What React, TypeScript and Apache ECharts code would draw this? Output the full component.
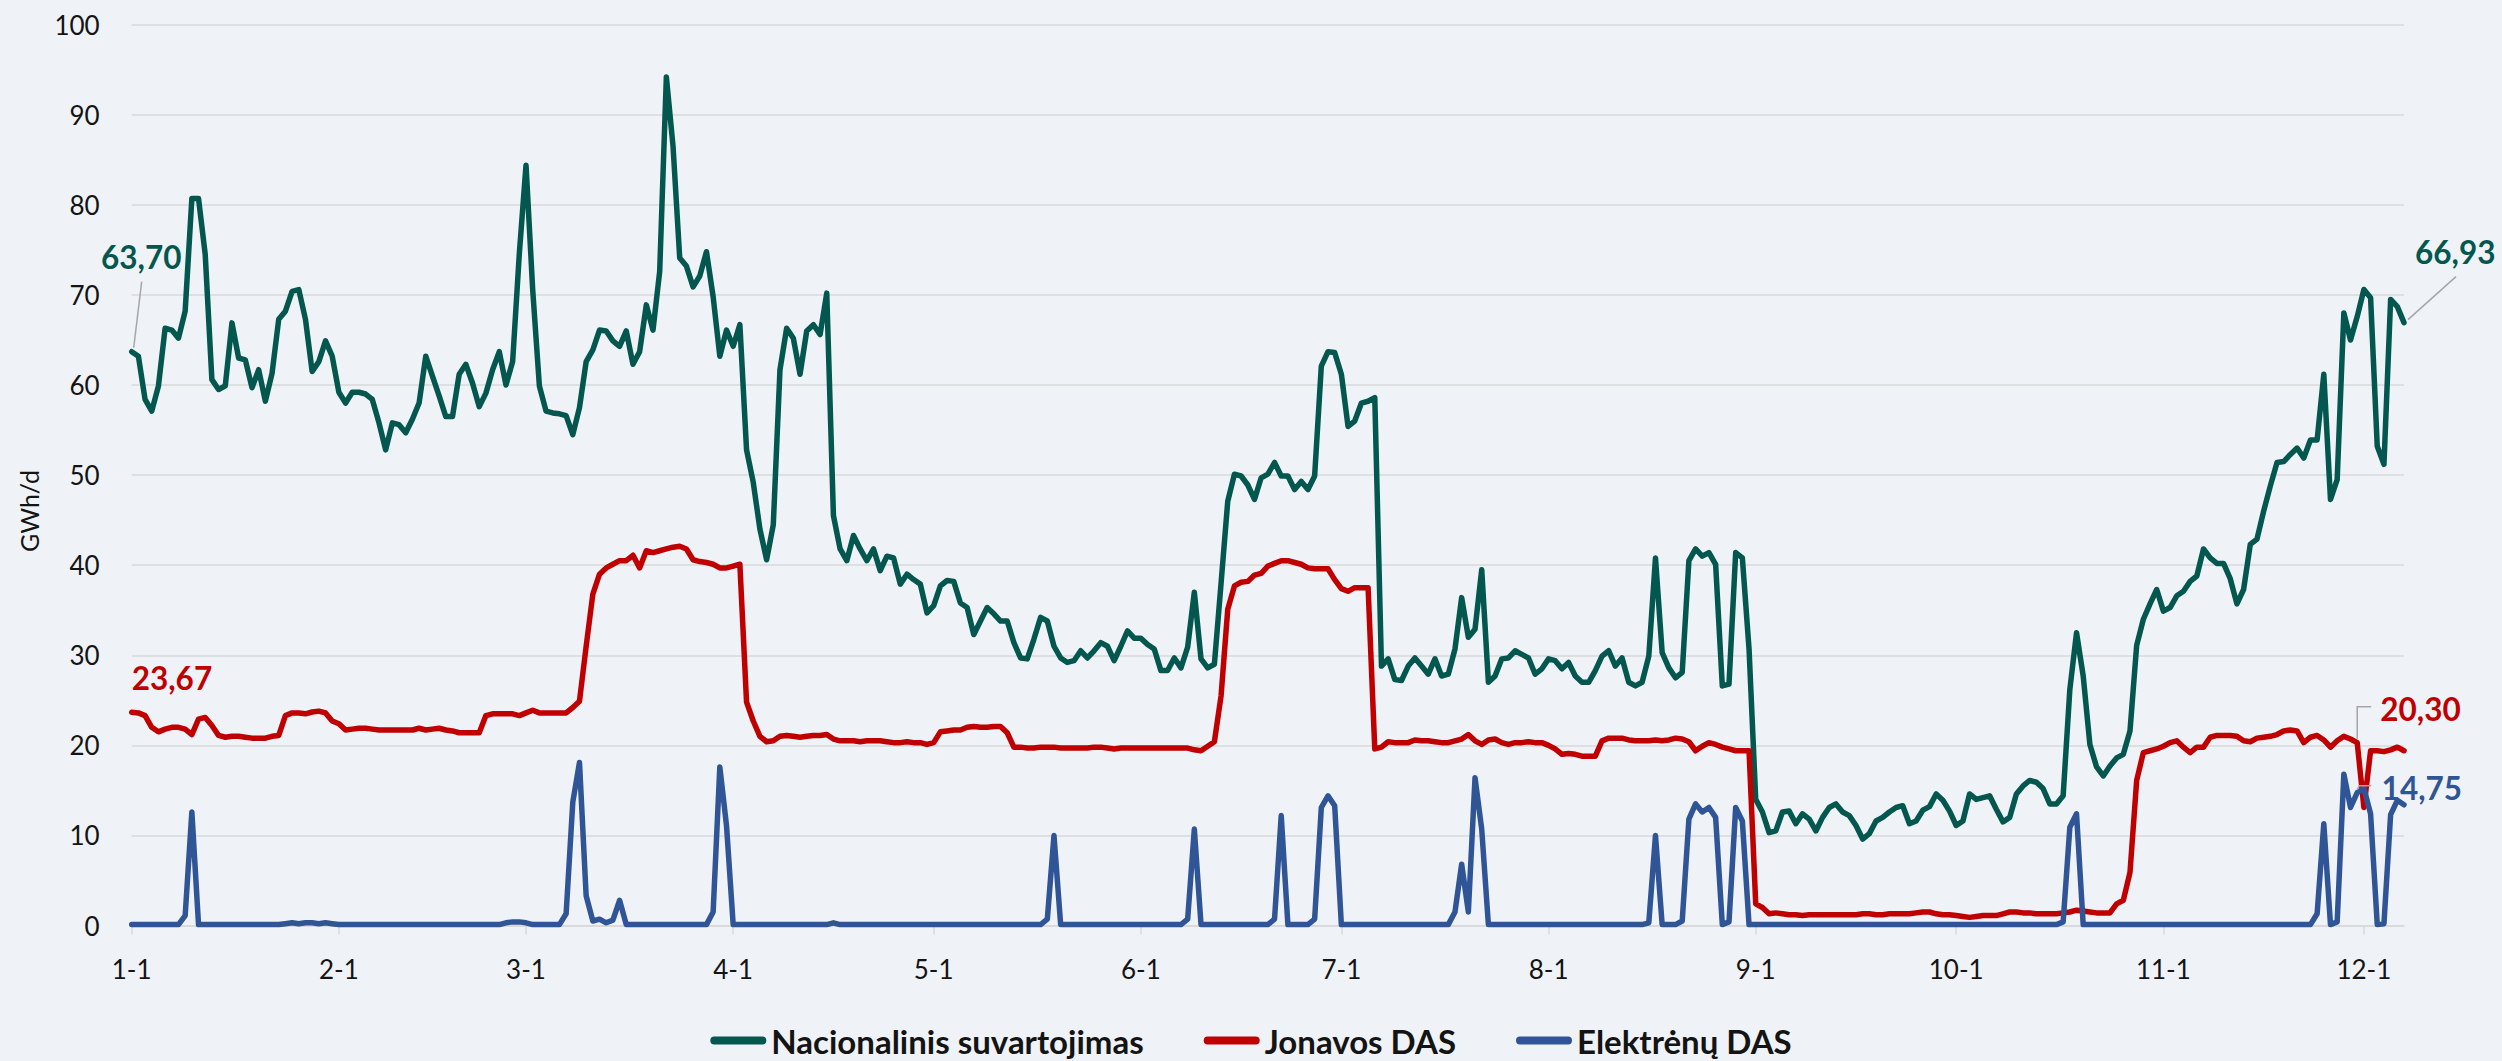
import React, { useEffect, useRef } from "react";
import * as echarts from "echarts";

// ---------- categories (daily, 1-1 .. 12-7) ----------
const monthLengths = [31, 28, 31, 30, 31, 30, 31, 31, 30, 31, 30, 31];
const DAY_COUNT = 341;
const dayLabels: string[] = [];
for (let m = 0; m < 12 && dayLabels.length < DAY_COUNT; m++) {
  for (let d = 1; d <= monthLengths[m] && dayLabels.length < DAY_COUNT; d++) {
    dayLabels.push(`${m + 1}-${d}`);
  }
}

// ---------- series values (GWh/d) ----------
const nacionalinis = [
  63.70, 63.2, 58.4, 57.1, 59.9, 66.3, 66.1, 65.2, 68.2, 80.7,
  80.7, 74.5, 60.6, 59.5, 59.9, 66.9, 63.0, 62.8, 59.7, 61.7,
  58.2, 61.3, 67.3, 68.2, 70.4, 70.6, 67.3, 61.5, 62.6, 64.9,
  63.2, 59.2, 58.0, 59.2, 59.2, 59.0, 58.4, 55.8, 52.8, 55.8,
  55.6, 54.7, 56.2, 58.0, 63.2, 61.0, 58.8, 56.5, 56.5, 61.2,
  62.3, 60.2, 57.6, 59.1, 61.7, 63.7, 60.0, 62.6, 74.6, 84.4,
  70.6, 59.9, 57.1, 56.9, 56.8, 56.6, 54.5, 57.5, 62.6, 63.9,
  66.1, 66.0, 64.9, 64.3, 66.0, 62.3, 63.7, 68.9, 66.1, 72.6,
  94.2, 86.5, 74.1, 73.2, 70.9, 72.1, 74.8, 69.8, 63.2, 66.1,
  64.3, 66.7, 52.8, 49.2, 44.0, 40.6, 44.5, 61.7, 66.3, 65.2,
  61.2, 66.0, 66.7, 65.6, 70.2, 45.5, 41.8, 40.5, 43.3, 41.8,
  40.5, 41.8, 39.4, 41.0, 40.8, 37.9, 39.0, 38.4, 37.9, 34.7,
  35.5, 37.7, 38.3, 38.2, 35.8, 35.3, 32.3, 33.8, 35.3, 34.6,
  33.8, 33.8, 31.4, 29.7, 29.6, 31.8, 34.2, 33.8, 31.0, 29.7,
  29.2, 29.4, 30.5, 29.7, 30.5, 31.4, 31.0, 29.4, 31.0, 32.7,
  31.9, 31.9, 31.2, 30.7, 28.3, 28.3, 29.7, 28.6, 30.9, 37.0,
  29.6, 28.6, 29.0, 38.0, 47.1, 50.1, 49.9, 48.9, 47.3, 49.7,
  50.1, 51.4, 49.9, 49.9, 48.4, 49.3, 48.4, 49.9, 62.1, 63.7,
  63.6, 61.2, 55.4, 56.0, 58.0, 58.2, 58.6, 28.8, 29.6, 27.3,
  27.2, 28.8, 29.7, 28.8, 27.9, 29.6, 27.7, 27.9, 30.7, 36.4,
  32.0, 32.9, 39.5, 27.0, 27.7, 29.6, 29.7, 30.5, 30.1, 29.7,
  27.9, 28.5, 29.6, 29.4, 28.5, 29.2, 27.7, 27.0, 27.0, 28.3,
  29.9, 30.5, 28.8, 29.7, 27.0, 26.6, 27.0, 29.9, 40.8, 30.3,
  28.6, 27.5, 28.1, 40.5, 41.8, 41.0, 41.4, 40.1, 26.6, 26.8,
  41.4, 40.8, 30.7, 14.0, 12.6, 10.3, 10.5, 12.6, 12.7, 11.3,
  12.4, 11.8, 10.5, 12.0, 13.1, 13.5, 12.6, 12.2, 11.1, 9.6,
  10.2, 11.6, 12.0, 12.6, 13.1, 13.3, 11.3, 11.6, 12.8, 13.2,
  14.6, 13.9, 12.7, 11.1, 11.6, 14.6, 14.0, 14.2, 14.4, 12.9,
  11.5, 12.0, 14.6, 15.5, 16.1, 15.9, 15.2, 13.5, 13.5, 14.4,
  26.2, 32.5, 27.7, 20.1, 17.6, 16.6, 17.7, 18.6, 19.0, 21.6,
  31.1, 34.0, 35.7, 37.3, 34.9, 35.3, 36.6, 37.1, 38.2, 38.8,
  41.8, 40.8, 40.2, 40.2, 38.5, 35.7, 37.3, 42.3, 42.9, 46.0,
  48.8, 51.4, 51.5, 52.3, 53.0, 51.9, 53.9, 53.9, 61.2, 47.3,
  49.5, 68.0, 65.0, 67.6, 70.6, 69.7, 53.2, 51.2, 69.5, 68.7,
  66.93,
];

const jonavos = [
  23.67, 23.6, 23.3, 22.0, 21.5, 21.8, 22.0, 22.0, 21.8, 21.2,
  22.9, 23.1, 22.2, 21.1, 20.9, 21.0, 21.0, 20.9, 20.8, 20.8,
  20.8, 21.0, 21.1, 23.3, 23.6, 23.6, 23.5, 23.7, 23.8, 23.6,
  22.7, 22.4, 21.7, 21.8, 21.9, 21.9, 21.8, 21.7, 21.7, 21.7,
  21.7, 21.7, 21.7, 21.9, 21.7, 21.8, 21.9, 21.7, 21.6, 21.4,
  21.4, 21.4, 21.4, 23.3, 23.5, 23.5, 23.5, 23.5, 23.3, 23.6,
  23.9, 23.6, 23.6, 23.6, 23.6, 23.6, 24.2, 24.9, 31.0, 36.8,
  39.0, 39.7, 40.1, 40.5, 40.5, 41.1, 39.7, 41.6, 41.4, 41.6,
  41.8, 42.0, 42.1, 41.8, 40.6, 40.4, 40.3, 40.1, 39.7, 39.7,
  39.9, 40.1, 24.8, 22.7, 21.0, 20.4, 20.5, 21.0, 21.1, 21.0,
  20.9, 21.0, 21.1, 21.1, 21.2, 20.7, 20.5, 20.5, 20.5, 20.4,
  20.5, 20.5, 20.5, 20.4, 20.3, 20.3, 20.4, 20.3, 20.3, 20.1,
  20.3, 21.5, 21.6, 21.7, 21.7, 22.0, 22.1, 22.0, 22.0, 22.1,
  22.1, 21.4, 19.8, 19.8, 19.7, 19.7, 19.8, 19.8, 19.8, 19.7,
  19.7, 19.7, 19.7, 19.7, 19.8, 19.8, 19.7, 19.6, 19.7, 19.7,
  19.7, 19.7, 19.7, 19.7, 19.7, 19.7, 19.7, 19.7, 19.7, 19.5,
  19.4, 19.9, 20.4, 25.5, 35.1, 37.7, 38.1, 38.2, 38.9, 39.1,
  39.9, 40.2, 40.5, 40.5, 40.3, 40.1, 39.7, 39.6, 39.6, 39.6,
  38.4, 37.4, 37.1, 37.5, 37.5, 37.5, 19.6, 19.8, 20.4, 20.3,
  20.3, 20.3, 20.6, 20.5, 20.5, 20.4, 20.3, 20.3, 20.5, 20.7,
  21.2, 20.5, 20.1, 20.6, 20.7, 20.3, 20.1, 20.3, 20.3, 20.4,
  20.3, 20.3, 20.0, 19.6, 19.0, 19.1, 19.0, 18.8, 18.8, 18.8,
  20.5, 20.8, 20.8, 20.8, 20.6, 20.5, 20.5, 20.5, 20.6, 20.5,
  20.6, 20.8, 20.7, 20.4, 19.4, 19.9, 20.3, 20.1, 19.8, 19.6,
  19.4, 19.4, 19.4, 2.4, 2.0, 1.3, 1.4, 1.3, 1.2, 1.2,
  1.1, 1.2, 1.2, 1.2, 1.2, 1.2, 1.2, 1.2, 1.2, 1.3,
  1.3, 1.2, 1.2, 1.3, 1.3, 1.3, 1.3, 1.4, 1.5, 1.5,
  1.3, 1.2, 1.2, 1.1, 1.0, 0.9, 1.0, 1.1, 1.1, 1.1,
  1.3, 1.5, 1.5, 1.4, 1.4, 1.3, 1.3, 1.3, 1.3, 1.4,
  1.5, 1.7, 1.6, 1.5, 1.4, 1.4, 1.4, 2.4, 2.8, 5.9,
  16.1, 19.2, 19.4, 19.6, 19.9, 20.3, 20.5, 19.8, 19.2, 19.8,
  19.8, 20.9, 21.1, 21.1, 21.1, 21.0, 20.5, 20.4, 20.8, 20.9,
  21.0, 21.2, 21.6, 21.7, 21.6, 20.3, 20.9, 21.1, 20.6, 19.8,
  20.5, 21.0, 20.7, 20.30, 13.1, 19.4, 19.4, 19.3, 19.5, 19.8,
  19.4,
];

const elektrenu = [
  0.1, 0.1, 0.1, 0.1, 0.1, 0.1, 0.1, 0.1, 1.1, 12.6,
  0.1, 0.1, 0.1, 0.1, 0.1, 0.1, 0.1, 0.1, 0.1, 0.1,
  0.1, 0.1, 0.1, 0.2, 0.3, 0.2, 0.3, 0.3, 0.2, 0.3,
  0.2, 0.1, 0.1, 0.1, 0.1, 0.1, 0.1, 0.1, 0.1, 0.1,
  0.1, 0.1, 0.1, 0.1, 0.1, 0.1, 0.1, 0.1, 0.1, 0.1,
  0.1, 0.1, 0.1, 0.1, 0.1, 0.1, 0.3, 0.4, 0.4, 0.3,
  0.1, 0.1, 0.1, 0.1, 0.1, 1.3, 13.7, 18.1, 3.3, 0.5,
  0.7, 0.3, 0.6, 2.8, 0.1, 0.1, 0.1, 0.1, 0.1, 0.1,
  0.1, 0.1, 0.1, 0.1, 0.1, 0.1, 0.1, 1.5, 17.6, 11.1,
  0.1, 0.1, 0.1, 0.1, 0.1, 0.1, 0.1, 0.1, 0.1, 0.1,
  0.1, 0.1, 0.1, 0.1, 0.1, 0.3, 0.1, 0.1, 0.1, 0.1,
  0.1, 0.1, 0.1, 0.1, 0.1, 0.1, 0.1, 0.1, 0.1, 0.1,
  0.1, 0.1, 0.1, 0.1, 0.1, 0.1, 0.1, 0.1, 0.1, 0.1,
  0.1, 0.1, 0.1, 0.1, 0.1, 0.1, 0.1, 0.7, 10.0, 0.1,
  0.1, 0.1, 0.1, 0.1, 0.1, 0.1, 0.1, 0.1, 0.1, 0.1,
  0.1, 0.1, 0.1, 0.1, 0.1, 0.1, 0.1, 0.1, 0.7, 10.7,
  0.1, 0.1, 0.1, 0.1, 0.1, 0.1, 0.1, 0.1, 0.1, 0.1,
  0.1, 0.7, 12.2, 0.1, 0.1, 0.1, 0.1, 0.7, 13.1, 14.4,
  13.3, 0.1, 0.1, 0.1, 0.1, 0.1, 0.1, 0.1, 0.1, 0.1,
  0.1, 0.1, 0.1, 0.1, 0.1, 0.1, 0.1, 0.1, 1.5, 6.8,
  1.5, 16.4, 10.7, 0.1, 0.1, 0.1, 0.1, 0.1, 0.1, 0.1,
  0.1, 0.1, 0.1, 0.1, 0.1, 0.1, 0.1, 0.1, 0.1, 0.1,
  0.1, 0.1, 0.1, 0.1, 0.1, 0.1, 0.1, 0.3, 10.0, 0.1,
  0.1, 0.1, 0.5, 11.8, 13.5, 12.6, 13.1, 12.0, 0.1, 0.4,
  13.1, 11.6, 0.1, 0.1, 0.1, 0.1, 0.1, 0.1, 0.1, 0.1,
  0.1, 0.1, 0.1, 0.1, 0.1, 0.1, 0.1, 0.1, 0.1, 0.1,
  0.1, 0.1, 0.1, 0.1, 0.1, 0.1, 0.1, 0.1, 0.1, 0.1,
  0.1, 0.1, 0.1, 0.1, 0.1, 0.1, 0.1, 0.1, 0.1, 0.1,
  0.1, 0.1, 0.1, 0.1, 0.1, 0.1, 0.1, 0.1, 0.1, 0.4,
  10.9, 12.4, 0.1, 0.1, 0.1, 0.1, 0.1, 0.1, 0.1, 0.1,
  0.1, 0.1, 0.1, 0.1, 0.1, 0.1, 0.1, 0.1, 0.1, 0.1,
  0.1, 0.1, 0.1, 0.1, 0.1, 0.1, 0.1, 0.1, 0.1, 0.1,
  0.1, 0.1, 0.1, 0.1, 0.1, 0.1, 0.1, 1.3, 11.3, 0.1,
  0.4, 16.8, 13.1, 14.75, 15.2, 12.4, 0.1, 0.2, 12.3, 13.9,
  13.4,
];

const seriesNames = ["Nacionalinis suvartojimas", "Jonavos DAS", "Elektrėnų DAS"];
const seriesColors = ["#03574F", "#C00000", "#2F5597"];
const seriesData = [nacionalinis, jonavos, elektrenu];

const Y_MIN = 0;
const Y_MAX = 100;
const Y_STEP = 10;
const Y_TITLE = "GWh/d";

// which points carry a value label (series index, point index)
const labelPoints = [
  { s: 0, i: 0 },
  { s: 1, i: 0 },
  { s: 0, i: 340 },
  { s: 1, i: 333 },
  { s: 2, i: 333 },
];

const FONT = "Lato, 'Noto Sans', sans-serif";
const TEXT = "#141414";
const GRID_COLOR = "#D9D9D9";
const BG = "#EFF3F7";

const fmt = (v: number) => v.toFixed(2).replace(".", ",");
const isMonthStart = (_i: number, v: string) => /-1$/.test(v);

export default function App() {
  const ref = useRef<HTMLDivElement>(null);

  useEffect(() => {
    if (!ref.current) return;
    const chart = echarts.init(ref.current, undefined, { renderer: "svg" });

    chart.setOption({
      animation: false,
      backgroundColor: BG,
      textStyle: { fontFamily: FONT },
      grid: { left: 131.7, right: 98, top: 24.7, bottom: 135.5, containLabel: false },
      xAxis: {
        type: "category",
        data: dayLabels,
        boundaryGap: false,
        axisLine: { show: true, lineStyle: { color: GRID_COLOR, width: 1.5 } },
        axisTick: { show: true, interval: isMonthStart, length: 9, lineStyle: { color: GRID_COLOR, width: 1.5 } },
        axisLabel: {
          interval: isMonthStart,
          color: TEXT,
          fontSize: 26,
          fontFamily: FONT,
          margin: 30,
          hideOverlap: false,
        },
        splitLine: { show: false },
      },
      yAxis: {
        type: "value",
        min: Y_MIN,
        max: Y_MAX,
        interval: Y_STEP,
        axisLine: { show: false },
        axisTick: { show: false },
        axisLabel: { color: TEXT, fontSize: 26, fontFamily: FONT, margin: 32 },
        splitLine: { lineStyle: { color: GRID_COLOR, width: 1.5 } },
      },
      legend: {
        left: "center",
        top: 1019,
        itemWidth: 56,
        itemHeight: 8,
        itemGap: 60,
        icon: "path://M4,0 L52,0 A4,4 0 0 1 52,8 L4,8 A4,4 0 0 1 4,0 Z",
        textStyle: { color: TEXT, fontSize: 33, fontWeight: "bold", fontFamily: FONT },
        data: seriesNames,
      },
      series: seriesNames.map((name, k) => ({
        name,
        type: "line",
        data: seriesData[k],
        showSymbol: false,
        symbol: "none",
        smooth: false,
        lineStyle: { color: seriesColors[k], width: 5.5, cap: "round", join: "round" },
        itemStyle: { color: seriesColors[k] },
        emphasis: { disabled: true },
        z: 2 + k,
      })),
    });

    const px = (i: number, v: number) =>
      chart.convertToPixel({ xAxisIndex: 0, yAxisIndex: 0 }, [i, v]) as number[];

    // per-label layout offsets (pixels, relative to the data point)
    const layouts = [
      { tx: 9.5, ty: -94.5, align: "center", leader: [[10, -70], [2, -4]] },
      { tx: 0, ty: -34, align: "left", leader: null },
      { tx: 11, ty: -71, align: "left", leader: [[52, -46], [4, -3]] },
      { tx: 23, ty: -34, align: "left", leader: [[14, -36], [0, -36], [0, -4]] },
      { tx: 24.4, ty: -4.5, align: "left", leader: [[14, -7], [2, -7], [0, -3]] },
    ];

    const graphics: any[] = [];
    labelPoints.forEach((lp, n) => {
      const v = seriesData[lp.s][lp.i];
      const [x, y] = px(lp.i, v);
      const L = layouts[n];
      if (L.leader) {
        graphics.push({
          type: "polyline",
          z: 10,
          shape: { points: L.leader.map(([dx, dy]) => [x + dx, y + dy]) },
          style: { stroke: "#A6A6A6", lineWidth: 1.5, fill: null },
          silent: true,
        });
      }
      graphics.push({
        type: "text",
        z: 11,
        x: x + L.tx,
        y: y + L.ty,
        style: {
          text: fmt(v),
          fill: seriesColors[lp.s],
          font: `bold 31.5px ${FONT}`,
          align: L.align,
          verticalAlign: "middle",
        },
        silent: true,
      });
    });

    graphics.push({
      type: "text",
      x: 29,
      y: 511,
      rotation: Math.PI / 2,
      style: {
        text: Y_TITLE,
        fill: TEXT,
        font: `25px ${FONT}`,
        align: "center",
        verticalAlign: "middle",
      },
      silent: true,
    });

    chart.setOption({ graphic: graphics });

    return () => chart.dispose();
  }, []);

  return (
    <div
      ref={ref}
      style={{ position: "absolute", left: 0, top: 0, width: 2502, height: 1061, background: BG }}
    />
  );
}
